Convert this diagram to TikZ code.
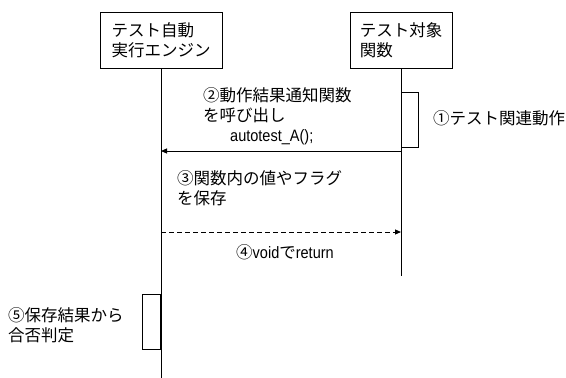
\documentclass[tikz,border=0pt]{standalone}
\usepackage{fontspec}
\setmainfont{Noto Sans CJK JP}
\newfontfamily\lat[FakeStretch=0.88]{Liberation Sans}
\usetikzlibrary{arrows.meta}
\begin{document}
\begin{tikzpicture}[x=1pt,y=-1pt,
  every node/.style={font=\fontsize{16.5}{20}\selectfont, inner sep=0pt},
  objbox/.style={draw, line width=1pt, minimum width=122pt, minimum height=56pt, align=left},
  life/.style={line width=1pt},
  act/.style={draw, line width=1pt, fill=white, minimum height=55pt},
  msg/.style={line width=1pt, -{Triangle[length=6pt,width=5pt]}},
  lbl/.style={anchor=west, align=left}]
\useasboundingbox[fill=white] (0,0) rectangle (566,378);
\node[objbox] (eng) at (161,40) {テスト自動\\実行エンジン};
\node[objbox, minimum width=102pt] (fun) at (401,40) {テスト対象\\関数};
\coordinate (engend) at (161,378);
\coordinate (funend) at (401,276);
\draw[life] (eng.south) -- (engend);
\draw[life] (fun.south) -- (funend);
\node[act, minimum width=17pt, anchor=north west] (act1) at (401,92) {};
\node[act, minimum width=18pt, anchor=north east] (act2) at (161,294) {};
\coordinate (m1s) at (401,151);
\coordinate (m1e) at (161,151);
\coordinate (m2s) at (161,232);
\coordinate (m2e) at (401,232);
\draw[msg] (m1s) -- (m1e);
\draw[msg, dash pattern=on 5pt off 3pt] (m2s) -- (m2e);
\node[lbl] (t1) at (433,118) {①テスト関連動作};
\node[lbl] (t2) at (203,105) {②動作結果通知関数\\を呼び出し};
\node[lbl] (t2b) at (230,137) {{\lat autotest\_A();}};
\node[lbl] (t3) at (177,188) {③関数内の値やフラグ\\を保存};
\node[lbl] (t4) at (236,252) {④{\lat void}で{\lat return}};
\node[lbl] (t5) at (8,325) {⑤保存結果から\\合否判定};
\end{tikzpicture}
\end{document}
